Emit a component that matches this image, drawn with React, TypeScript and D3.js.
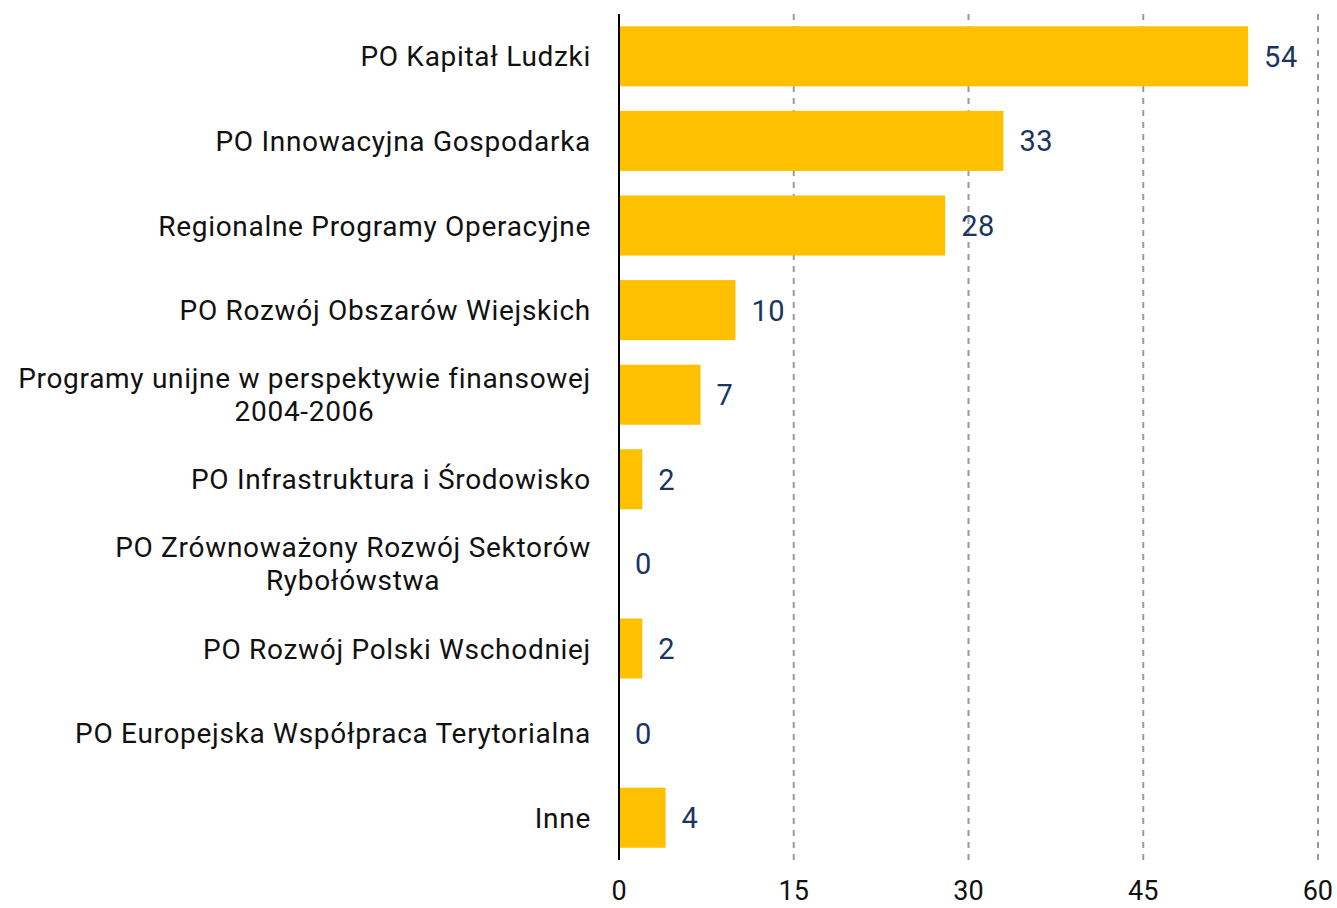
import React, { useEffect, useRef } from "react";
import * as d3 from "d3";

const categories = [
  "PO Kapitał Ludzki",
  "PO Innowacyjna Gospodarka",
  "Regionalne Programy Operacyjne",
  "PO Rozwój Obszarów Wiejskich",
  "Programy unijne w perspektywie finansowej|2004-2006",
  "PO Infrastruktura i Środowisko",
  "PO Zrównoważony Rozwój Sektorów|Rybołówstwa",
  "PO Rozwój Polski Wschodniej",
  "PO Europejska Współpraca Terytorialna",
  "Inne",
];
const values = [54, 33, 28, 10, 7, 2, 0, 2, 0, 4];
const ticks = [0, 15, 30, 45, 60];

const FONT = "Roboto, 'Noto Sans', sans-serif";

const App = () => {
  const ref = useRef<HTMLDivElement>(null);

  useEffect(() => {
    const width = 1337;
    const height = 908;
    d3.select(ref.current).selectAll("svg").remove();
    const svg = d3
      .select(ref.current)
      .append("svg")
      .attr("width", width)
      .attr("height", height)
      .style("display", "block");

    const x = d3.scaleLinear().domain([0, 60]).range([619, 1318]);
    const y = d3
      .scaleBand()
      .domain(categories)
      .range([14, 860])
      .paddingInner(0.29)
      .paddingOuter(0.145);

    // gridlines
    svg
      .append("g")
      .selectAll("line")
      .data(ticks.filter((t) => t > 0))
      .enter()
      .append("line")
      .attr("x1", (d) => x(d))
      .attr("x2", (d) => x(d))
      .attr("y1", 14)
      .attr("y2", 860)
      .attr("stroke", "#9a9a9a")
      .attr("stroke-width", 2)
      .attr("stroke-dasharray", "6,6");

    // bars
    svg
      .append("g")
      .selectAll("rect")
      .data(values)
      .enter()
      .append("rect")
      .attr("x", x(0))
      .attr("y", (d, i) => y(categories[i])!)
      .attr("width", (d) => x(d) - x(0))
      .attr("height", y.bandwidth())
      .attr("fill", "#ffc000");

    // value labels
    svg
      .append("g")
      .selectAll("text")
      .data(values)
      .enter()
      .append("text")
      .attr("x", (d) => x(d) + 16)
      .attr("y", (d, i) => y(categories[i])! + y.bandwidth() / 2)
      .attr("dy", "0.36em")
      .attr("font-family", FONT)
      .attr("font-size", 29)
      .attr("letter-spacing", 0.5)
      .attr("fill", "#1a3560")
      .text((d) => d);

    // axis line
    svg
      .append("line")
      .attr("x1", x(0))
      .attr("x2", x(0))
      .attr("y1", 14)
      .attr("y2", 860)
      .attr("stroke", "#000")
      .attr("stroke-width", 2);

    // category labels
    const lab = svg
      .append("g")
      .selectAll("text")
      .data(categories)
      .enter()
      .append("text")
      .attr("text-anchor", "end")
      .attr("font-family", FONT)
      .attr("font-size", 28)
      .attr("letter-spacing", 0.7)
      .attr("fill", "#111");
    lab.each(function (d) {
      const lines = d.split("|");
      const t = d3.select(this);
      const cy = y(d)! + y.bandwidth() / 2;
      const lh = 33;
      const y0 = cy - ((lines.length - 1) * lh) / 2;
      lines.forEach((ln, k) => {
        t.append("tspan")
          .attr("x", 591)
          .attr("y", y0 + k * lh)
          .attr("dy", "0.36em")
          .text(ln);
      });
      if (lines.length > 1) {
        // center shorter lines under the longest one
        const spans = t.selectAll<SVGTSpanElement, unknown>("tspan").nodes();
        const widths = spans.map((s) => s.getComputedTextLength());
        const maxW = Math.max(...widths);
        spans.forEach((s, k) => {
          d3.select(s).attr("x", 591 - (maxW - widths[k]) / 2);
        });
      }
    });

    // x tick labels
    svg
      .append("g")
      .selectAll("text")
      .data(ticks)
      .enter()
      .append("text")
      .attr("x", (d) => x(d))
      .attr("y", 890)
      .attr("dy", "0.36em")
      .attr("text-anchor", (d) => (d === 60 ? "end" : "middle"))
      .attr("dx", (d) => (d === 60 ? 15 : 0))
      .attr("font-family", FONT)
      .attr("font-size", 27)
      .attr("fill", "#111")
      .text((d) => d);
  }, []);

  return <div ref={ref} style={{ position: "absolute", left: 0, top: 0 }}></div>;
};

export default App;
